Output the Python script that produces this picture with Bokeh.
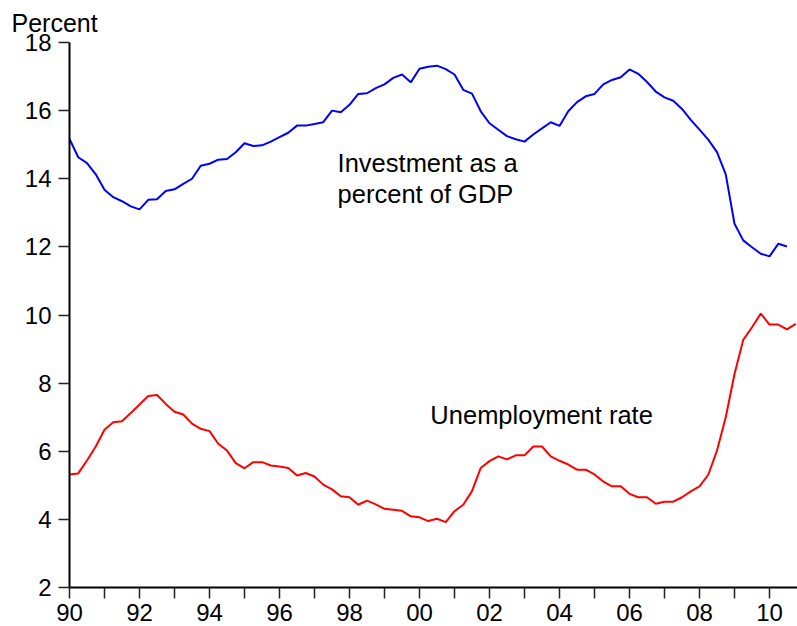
from bokeh.plotting import figure
from bokeh.models import Range1d, FixedTicker, Label
from bokeh.embed import file_html
from bokeh.resources import INLINE

# Quarterly data, 1990Q1 onward
start_year = 1990
investment = [15.17, 14.63, 14.46, 14.13, 13.68, 13.46, 13.34, 13.19,
              13.10, 13.38, 13.40, 13.64, 13.69, 13.85, 14.00, 14.38,
              14.44, 14.56, 14.58, 14.78, 15.04, 14.96, 14.98, 15.09,
              15.22, 15.35, 15.56, 15.56, 15.61, 15.66, 16.00, 15.95,
              16.17, 16.49, 16.51, 16.66, 16.77, 16.96, 17.06, 16.83,
              17.23, 17.29, 17.32, 17.22, 17.06, 16.61, 16.50, 15.98,
              15.63, 15.44, 15.25, 15.16, 15.09, 15.30, 15.48, 15.66,
              15.55, 15.98, 16.25, 16.42, 16.49, 16.77, 16.90, 16.98,
              17.21, 17.08, 16.84, 16.56, 16.39, 16.29, 16.05, 15.73,
              15.44, 15.15, 14.78, 14.13, 12.68, 12.19, 11.99, 11.80,
              11.72, 12.09, 12.01]
unemployment = [5.32, 5.35, 5.73, 6.14, 6.63, 6.85, 6.88, 7.12,
                7.37, 7.62, 7.65, 7.39, 7.16, 7.08, 6.81, 6.66,
                6.59, 6.22, 6.02, 5.65, 5.50, 5.68, 5.68, 5.58,
                5.55, 5.51, 5.29, 5.36, 5.26, 5.02, 4.88, 4.68,
                4.65, 4.43, 4.55, 4.44, 4.31, 4.28, 4.25, 4.09,
                4.06, 3.95, 4.02, 3.92, 4.24, 4.43, 4.83, 5.51,
                5.71, 5.85, 5.76, 5.88, 5.88, 6.14, 6.14, 5.85,
                5.72, 5.61, 5.46, 5.46, 5.32, 5.11, 4.97, 4.97,
                4.75, 4.65, 4.65, 4.46, 4.52, 4.52, 4.65, 4.82,
                4.97, 5.31, 6.02, 7.00, 8.27, 9.27, 9.64, 10.04,
                9.72, 9.72, 9.58, 9.74]

major_years = [1990, 1992, 1994, 1996, 1998, 2000, 2002, 2004, 2006, 2008, 2010]
minor_years = [1991, 1993, 1995, 1997, 1999, 2001, 2003, 2005, 2007, 2009]
year_labels = ["90", "92", "94", "96", "98", "00", "02", "04", "06", "08", "10"]
y_ticks = [2, 4, 6, 8, 10, 12, 14, 16, 18]

t_inv = [start_year + 0.25 * i for i in range(len(investment))]
t_une = [start_year + 0.25 * i for i in range(len(unemployment))]

FONT = "Liberation Sans"

p = figure(frame_width=728, frame_height=545, output_backend="svg",
           toolbar_location=None, x_range=Range1d(1990, 2010.8),
           y_range=Range1d(2, 18), min_border_left=69, min_border_right=0,
           min_border_top=42, min_border_bottom=39,
           title="Percent")
p.outline_line_color = None
p.xgrid.visible = False
p.ygrid.visible = False
p.background_fill_color = "white"
p.border_fill_color = "white"

p.title.text_font = FONT
p.title.text_font_size = "25px"
p.title.text_font_style = "normal"
p.title.text_color = "black"
p.title.align = "left"
p.title.vertical_align = "top"
p.title.offset = -58
p.title.standoff = 8

p.line(t_inv, investment, line_color="#0000FF", line_width=2)
p.line(t_une, unemployment, line_color="#FF0000", line_width=2)

xa = p.xaxis
xa.ticker = FixedTicker(ticks=major_years, minor_ticks=minor_years)
xa.major_label_overrides = {y: l for y, l in zip(major_years, year_labels)}
xa.major_tick_out = 11
xa.major_tick_in = 0
xa.minor_tick_out = 11
xa.minor_tick_in = 0
xa.axis_line_width = 2
xa.axis_line_color = "black"
xa.major_tick_line_color = "#222222"
xa.major_tick_line_width = 1.5
xa.minor_tick_line_color = "#222222"
xa.minor_tick_line_width = 1.5
xa.major_label_text_font = FONT
xa.major_label_text_font_size = "24px"
xa.major_label_text_color = "black"
xa.major_label_standoff = 5

ya = p.yaxis
ya.ticker = FixedTicker(ticks=y_ticks, minor_ticks=[])
ya.major_tick_out = 11
ya.major_tick_in = 0
ya.axis_line_width = 2
ya.axis_line_color = "black"
ya.major_tick_line_color = "#222222"
ya.major_tick_line_width = 1.5
ya.major_label_text_font = FONT
ya.major_label_text_font_size = "24px"
ya.major_label_text_color = "black"
ya.major_label_standoff = 7

def add_label(x, y, text):
    p.add_layout(Label(x=x, y=y, text=text, text_font=FONT,
                       text_font_size="25.5px", text_color="black",
                       text_baseline="alphabetic", text_align="left"))

add_label(1997.66, 14.46, "Investment as a")
add_label(1997.66, 13.54, "percent of GDP")
add_label(2000.31, 7.07, "Unemployment rate")

open("out.html", "w").write(file_html(p, INLINE))
